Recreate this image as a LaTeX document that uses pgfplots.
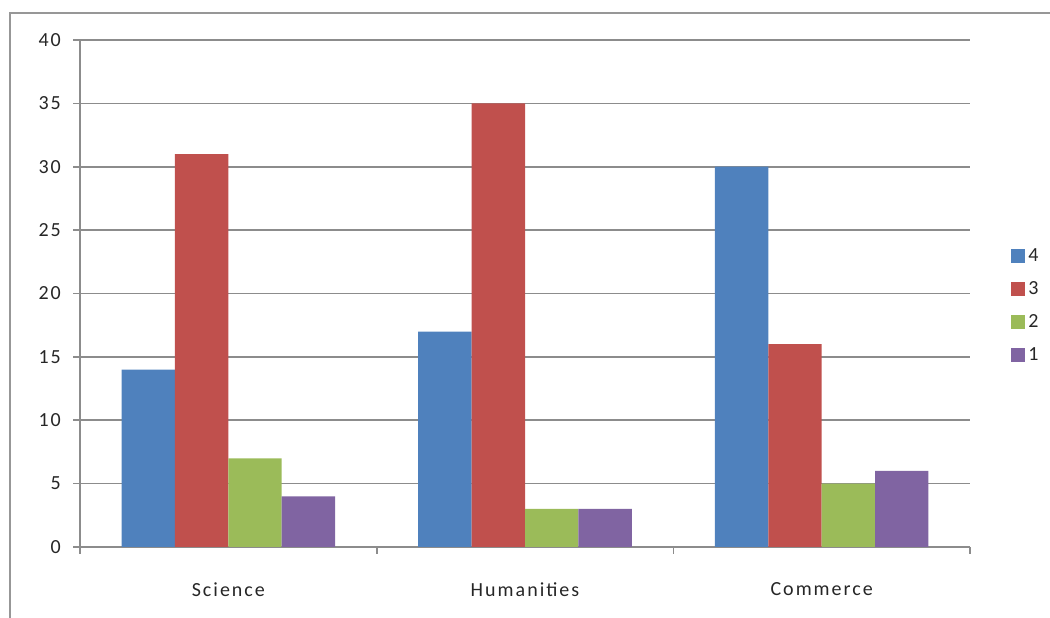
\documentclass[border=0pt]{standalone}
\usepackage{fontspec}
\setmainfont[LetterSpace=10]{Carlito}
\usepackage{pgfplots}
\pgfplotsset{compat=1.18}
\definecolor{sfour}{RGB}{79,129,189}
\definecolor{sthree}{RGB}{192,80,77}
\definecolor{stwo}{RGB}{155,187,89}
\definecolor{sone}{RGB}{128,100,162}
\definecolor{axgray}{RGB}{140,140,140}
\begin{document}
\begin{tikzpicture}[x=1pt,y=1pt]
\useasboundingbox (-48,-42.6) rectangle (582,328.2);
\draw[line width=1.2pt, color=axgray!90] (-42,-60) -- (-42,320.4) -- (600,320.4);
\begin{axis}[
  at={(0,0)}, anchor=south west, scale only axis,
  width=534pt, height=304.2pt,
  ybar=0pt, bar width=0.18,
  xmin=-0.5, xmax=2.5, ymin=0, ymax=40,
  ytick={0,5,...,40},
  xtick={-0.5,0.5,1.5,2.5}, xticklabels={},
  extra x ticks={0,1,2},
  extra x tick labels={Science,Humanities,Commerce},
  extra x tick style={tick style={draw=none}, grid=none},
  axis x line*=bottom, axis y line*=left,
  axis line style={-, draw=axgray, line width=1pt},
  tick align=outside, major tick length=4pt,
  tick style={draw=axgray, line width=1pt},
  ymajorgrids, major grid style={draw=axgray, line width=1pt},
  /pgf/number format/assume math mode=true,
  tick label style={font=\fontsize{12}{14}\selectfont, text=black!85},
  yticklabel style={xshift=-4pt},
  xticklabel style={yshift=-14pt},
  legend style={at={(1.04,0.475)}, anchor=west, draw=none, fill=none,
    font=\fontsize{12}{14}\selectfont, text=black!85, row sep=6.6pt,
    legend cell align=left},
  legend image code/.code={\fill[#1] (-3.6pt,-4pt) rectangle (4.8pt,4.4pt);},
]
\addplot[fill=sfour, draw=none] coordinates {(0,14) (1,17) (2,30)};
\addplot[fill=sthree, draw=none] coordinates {(0,31) (1,35) (2,16)};
\addplot[fill=stwo, draw=none] coordinates {(0,7) (1,3) (2,5)};
\addplot[fill=sone, draw=none] coordinates {(0,4) (1,3) (2,6)};
\legend{4,3,2,1}
\end{axis}
\end{tikzpicture}
\end{document}
